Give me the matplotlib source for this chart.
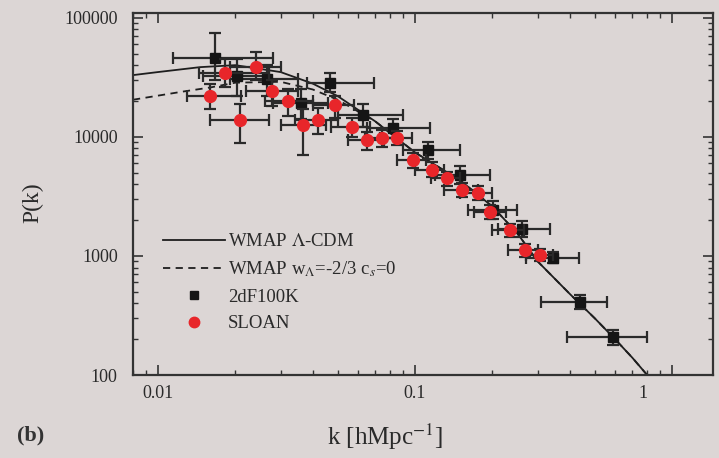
import matplotlib
matplotlib.use("Agg")
import matplotlib.pyplot as plt
from matplotlib.lines import Line2D
import numpy as np

plt.rcParams['font.family'] = ['Liberation Serif', 'DejaVu Serif']
plt.rcParams['mathtext.fontset'] = 'stix'

BG = '#dcd6d5'

# Theory curves (k in h/Mpc, P(k))
k_lcdm = [0.008, 0.010, 0.0146, 0.020, 0.030, 0.040, 0.050, 0.070, 0.100,
          0.150, 0.200, 0.250, 0.300, 0.400, 0.500, 0.600, 0.700, 0.800]
P_lcdm = [33000, 35000, 38500, 40000, 35000, 28000, 22000, 13500, 7400,
          4300, 2600, 1550, 900, 480, 300, 200, 140, 100]

k_wde = [0.008, 0.0125, 0.016, 0.020, 0.030, 0.040, 0.050, 0.070, 0.100,
         0.150, 0.200, 0.250, 0.300, 0.400, 0.500, 0.600, 0.700, 0.800]
P_wde = [20500, 24000, 26000, 28500, 29000, 25000, 20500, 13500, 7400,
         4300, 2600, 1550, 900, 480, 300, 200, 140, 100]

# 2dF 100K band powers
k_2df = [0.0167, 0.0203, 0.0265, 0.036, 0.0467, 0.0628, 0.082, 0.1125,
         0.150, 0.201, 0.261, 0.344, 0.438, 0.589]
P_2df = [46000, 32500, 30700, 19300, 28400, 15300, 11900, 7770,
         4790, 2440, 1690, 960, 410, 208]
klo_2df = [0.0114, 0.015, 0.019, 0.028, 0.038, 0.050, 0.065, 0.090,
           0.120, 0.160, 0.210, 0.270, 0.310, 0.390]
khi_2df = [0.028, 0.027, 0.035, 0.046, 0.069, 0.090, 0.114, 0.150,
           0.196, 0.250, 0.334, 0.436, 0.560, 0.800]
Plo_2df = [30000, 22000, 22000, 14000, 23800, 12000, 9800, 6500,
           4000, 2050, 1450, 870, 360, 180]
Phi_2df = [74000, 45000, 40000, 25000, 34500, 19000, 14000, 9000,
           5700, 2900, 1950, 1080, 470, 240]

# SLOAN band powers
k_sdss = [0.0159, 0.0182, 0.0208, 0.024, 0.0278, 0.032, 0.0367, 0.042,
          0.0489, 0.0569, 0.065, 0.0744, 0.085, 0.098, 0.116, 0.133,
          0.152, 0.176, 0.196, 0.234, 0.268, 0.306]
P_sdss = [22100, 34500, 13900, 38700, 24400, 20100, 12600, 13900,
          18600, 12100, 9400, 9800, 9800, 6400, 5300, 4500,
          3590, 3390, 2350, 1650, 1120, 1020]
klo_sdss = [0.013, 0.0145, 0.016, 0.019, 0.022, 0.026, 0.030, 0.034,
            0.040, 0.047, 0.055, 0.064, 0.073, 0.085, 0.100, 0.115,
            0.130, 0.150, 0.170, 0.200, 0.230, 0.270]
khi_sdss = [0.021, 0.027, 0.027, 0.030, 0.035, 0.040, 0.045, 0.050,
            0.058, 0.067, 0.076, 0.086, 0.097, 0.110, 0.130, 0.150,
            0.175, 0.200, 0.225, 0.265, 0.300, 0.345]
Plo_sdss = [17000, 26000, 8900, 30000, 18000, 15000, 7100, 10500,
            14500, 10000, 7800, 8300, 8500, 5500, 4600, 3900,
            3100, 2950, 2050, 1450, 980, 900]
Phi_sdss = [28000, 45000, 19000, 51800, 30000, 25000, 17000, 17500,
            22000, 14500, 11000, 11500, 11200, 7300, 6100, 5100,
            4100, 3850, 2700, 1850, 1270, 1150]

x_ticks = [0.01, 0.1, 1]
x_ticklabels = ['0.01', '0.1', '']
y_ticks = [100, 1000, 10000, 100000]
y_ticklabels = ['100', '1000', '10000', '100000']

TXT = '#2a2a2a'
fig = plt.figure(figsize=(7.19, 4.58), dpi=100, facecolor=BG)
ax = fig.add_axes([0.185, 0.181, 0.807, 0.791], facecolor=BG)
ax.set_xscale('log')
ax.set_yscale('log')
ax.set_xlim(0.0080, 1.445)
ax.set_ylim(100, 1.1e5)

ax.plot(k_lcdm, P_lcdm, '-', color='#1e1e1e', lw=1.3, zorder=2)
ax.plot(k_wde, P_wde, '--', color='#1e1e1e', lw=1.3, dashes=(4, 3), zorder=2)


def asym(v, lo, hi):
    v = np.asarray(v, float)
    return [v - np.asarray(lo, float), np.asarray(hi, float) - v]


ax.errorbar(k_2df, P_2df, xerr=asym(k_2df, klo_2df, khi_2df),
            yerr=asym(P_2df, Plo_2df, Phi_2df), fmt='s', color='#151515',
            ms=7, ecolor='#2a2a2a', elinewidth=1.6, capsize=4.5, capthick=1.6,
            zorder=3)
ax.errorbar(k_sdss, P_sdss, xerr=asym(k_sdss, klo_sdss, khi_sdss),
            yerr=asym(P_sdss, Plo_sdss, Phi_sdss), fmt='o', color='#e8262a',
            ms=8.5, ecolor='#2a2a2a', elinewidth=1.6, capsize=4.5, capthick=1.6,
            zorder=4)

ax.set_xticks(x_ticks)
ax.set_xticklabels(x_ticklabels)
ax.set_yticks(y_ticks)
ax.set_yticklabels(y_ticklabels)
ax.annotate('1', xy=(1, 0), xycoords=('data', 'axes fraction'),
            xytext=(-21, -7), textcoords='offset points',
            ha='center', va='top', fontsize=13, color=TXT)

ax.tick_params(which='both', direction='in', top=True, right=True,
               colors='#333333', labelcolor=TXT, labelsize=13)
ax.tick_params(which='major', length=7, width=1.2)
ax.tick_params(which='minor', length=3.5, width=1.0)
ax.tick_params(axis='x', pad=7)
ax.tick_params(axis='y', pad=11)
for s in ax.spines.values():
    s.set_color('#333333')
    s.set_linewidth(1.6)

ax.set_xlabel(r'k [hMpc$^{-1}$]', fontsize=18, color=TXT, va='center')
ax.xaxis.set_label_coords(0.434, -0.171)
ax.set_ylabel('P(k)', fontsize=17, color=TXT, va='center')
ax.yaxis.set_label_coords(-0.172, 0.475)
fig.text(0.042, 0.049, '(b)', fontsize=16, fontweight='bold', color='#333333',
         ha='center', va='center')

handles = [
    Line2D([], [], color='#1e1e1e', lw=1.3),
    Line2D([], [], color='#1e1e1e', lw=1.3, ls='--', dashes=(4, 3)),
    Line2D([], [], color='#151515', marker='s', ls='none', ms=6),
    Line2D([], [], color='#e8262a', marker='o', ls='none', ms=7.5),
]
labels = [r'WMAP $\Lambda$-CDM', r'WMAP w$_\Lambda$=-2/3 c$_s$=0',
          '2dF100K', 'SLOAN']
ax.legend(handles, labels, loc='upper left', bbox_to_anchor=(0.052, 0.392),
          frameon=False, fontsize=13.5, handlelength=3.3, handletextpad=0.15,
          labelspacing=0.5, borderaxespad=0, borderpad=0,
          labelcolor=TXT)

fig.savefig('out.png', dpi=100, facecolor=BG)
